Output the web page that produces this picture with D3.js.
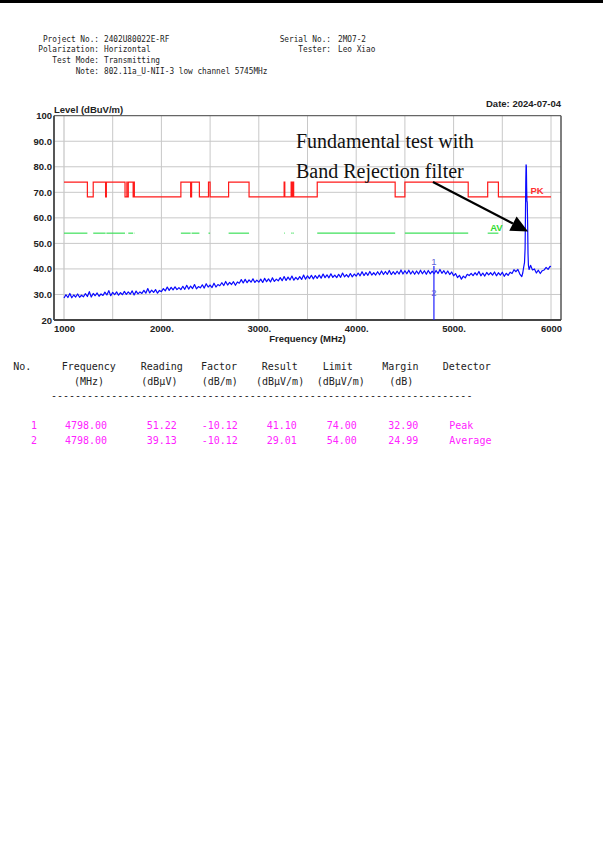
<!DOCTYPE html>
<html><head><meta charset="utf-8">
<script src="https://cdn.jsdelivr.net/npm/d3@7"></script>
<style>body{margin:0;background:#fff}svg{display:block}</style>
</head><body>
<svg id="c" width="603" height="866"></svg>
<script>
// ---------- header ----------
const headerLeftLabels = ["Project No.:", "Polarization:", "Test Mode:", "Note:"];
const headerLeftValues = ["2402U80022E-RF", "Horizontal", "Transmitting", "802.11a_U-NII-3 low channel 5745MHz"];
const headerRightLabels = ["Serial No.:", "Tester:"];
const headerRightValues = ["2MO7-2", "Leo Xiao"];
const dateText = "Date: 2024-07-04";

// ---------- axes ----------
const yTickValues = [20, 30, 40, 50, 60, 70, 80, 90, 100];
const yTickLabels = ["20", "30.0", "40.0", "50.0", "60.0", "70.0", "80.0", "90.0", "100"];
const xTickValues = [1000, 2000, 3000, 4000, 5000, 6000];
const xTickLabels = ["1000", "2000.", "3000.", "4000.", "5000.", "6000"];
const xGridValues = [1000, 1500, 2000, 2500, 3000, 3500, 4000, 4500, 5000, 5500, 6000];
const yGridValues = [30, 40, 50, 60, 70, 80, 90];

// ---------- limits (restricted bands, MHz) ----------
const restrictedBands = [[1000,1240],[1300,1427],[1435,1626.5],[1645.5,1646.5],[1660,1710],[1718.8,1722.2],
  [2200,2300],[2310,2390],[2483.5,2500],[2690,2900],[3260,3267],[3332,3339],[3345.8,3358],
  [3600,4400],[4500,5150],[5350,5460]];
const pkLimitRestricted = 74;
const pkLimitOther = 68.2;
const avLimitRestricted = 54;

// ---------- measured trace ----------
const sweepStart = 1000, sweepStep = 20, sweepEnd = 5700;
const sweepLevels = [
  28.6,29.9,28.8,30.4,28.7,29.8,29.0,30.2,28.9,29.7,
  29.1,30.3,29.2,31.1,29.0,30.4,29.5,30.6,29.3,30.2,
  29.6,30.9,29.8,31.5,29.5,30.8,29.9,31.0,29.7,30.7,
  29.9,31.2,30.0,31.0,30.1,31.4,29.8,31.3,30.2,31.0,
  30.4,31.6,30.5,32.3,30.6,31.7,30.8,31.9,30.5,31.6,
  31.1,32.3,31.4,32.9,31.6,32.8,31.8,33.0,31.9,32.7,
  31.9,33.2,32.0,33.6,32.1,33.3,32.3,33.9,32.2,33.1,
  32.6,33.8,32.5,34.2,32.9,33.7,32.7,34.4,32.9,33.9,
  33.4,34.6,33.5,35.1,33.7,34.7,33.9,35.0,33.6,34.9,
  34.4,35.8,34.5,35.9,34.6,35.7,34.8,36.1,34.7,35.6,
  34.8,36.0,34.7,36.3,35.0,36.1,34.9,36.5,35.1,36.0,
  35.3,36.6,35.4,37.0,35.5,36.8,35.7,37.2,35.6,36.7,
  35.8,37.0,35.9,37.6,36.0,37.3,36.2,37.5,36.1,37.4,
  36.3,37.6,36.4,38.0,36.6,37.7,36.5,38.1,36.7,37.6,
  36.6,37.9,36.7,38.4,36.9,37.8,36.8,38.2,36.9,38.0,
  37.2,38.4,37.3,38.9,37.4,38.6,37.5,39.0,37.6,38.5,
  37.6,38.9,37.7,39.2,37.8,39.0,37.9,39.4,37.8,38.9,
  37.9,39.1,38.0,39.6,38.0,39.3,38.1,39.5,38.0,39.2,
  37.9,39.2,38.0,39.5,38.1,39.3,37.9,39.4,38.1,39.1,
  38.1,39.4,38.2,39.8,38.3,39.3,38.0,39.2,37.8,38.8,
  37.3,38.2,36.6,37.5,36.0,37.2,36.5,37.9,37.4,38.3,
  37.4,38.5,37.6,39.0,37.3,38.4,37.2,38.6,37.7,38.5,
  37.6,38.8,37.3,38.5,37.6,38.7,37.1,38.3,37.5,38.7,
  38.2,39.7,38.9,39.8,38.0,37.0
];
const spikeFreqs  = [5710,5720,5728,5734,5738,5741,5744,5747,5750,5753,5756,5760,5764,5768,5775,5790,5810,5830,5850,5870,5890,5910,5930,5950,5970,5990,6000];
const spikeLevels = [38.4,40.8,42.5,48.0,62.0,74.0,80.8,80.3,72.0,66.5,66.0,58.0,46.0,41.5,39.8,41.4,39.6,40.0,38.4,39.5,38.2,39.3,39.6,40.6,39.8,41.0,40.9];

// ---------- final results table ----------
const tableHeader1 = ["No.", "Frequency", "Reading", "Factor", "Result", "Limit", "Margin", "Detector"];
const tableHeader2 = ["", "(MHz)", "(dBμV)", "(dB/m)", "(dBμV/m)", "(dBμV/m)", "(dB)", ""];
const markerNo = ["1", "2"];
const markerFreq = [4798.00, 4798.00];
const markerReading = [51.22, 39.13];
const markerFactor = [-10.12, -10.12];
const markerResult = [41.10, 29.01];
const markerLimit = [74.00, 54.00];
const markerMargin = [32.90, 24.99];
const markerDetector = ["Peak", "Average"];

// ---------- annotation ----------
const noteLines = ["Fundamental test with", "Band Rejection filter"];
const noteAnchor = {f: 3382, l1: 87.2, l2: 75.8};
const arrowFrom = {f: 4788, l: 74.0};
const arrowTo = {f: 5764, l: 54.7};

// =====================================================
const svg = d3.select("#c");
svg.append("rect").attr("x",0).attr("y",0).attr("width",603).attr("height",3).attr("fill","#000");

// header
const mono = "'DejaVu Sans Mono','Liberation Mono',monospace";
const cw = 4.67;
const hy = [41.5, 52.3, 63, 73.8];
function monoText(g, str, x, yy, anchor, fs, charW, color){
  const t = g.append("text").attr("x",x).attr("y",yy).attr("font-family",mono)
    .attr("font-size",fs).attr("fill",color||"#222").attr("text-anchor",anchor||"start").text(str);
  if (str.length) t.attr("textLength", str.length*charW).attr("lengthAdjust","spacingAndGlyphs");
  return t;
}
headerLeftLabels.forEach((s,i)=>monoText(svg, s, 99, hy[i], "end", 9, cw));
headerLeftValues.forEach((s,i)=>monoText(svg, s, 104, hy[i], "start", 9, cw));
headerRightLabels.forEach((s,i)=>monoText(svg, s, 331, hy[i], "end", 9, cw));
headerRightValues.forEach((s,i)=>monoText(svg, s, 338, hy[i], "start", 9, cw));

// chart
const plotL = 54, plotR = 561, plotT = 115.7, plotB = 320;
const x = d3.scaleLinear().domain([1000, 6000]).range([64, 551]);
const y = d3.scaleLinear().domain([20, 100]).range([plotB, plotT]);
const sans = "'Liberation Sans', Arial, sans-serif";

// grid
svg.append("g").selectAll("line").data(xGridValues).join("line")
  .attr("x1",d=>x(d)).attr("x2",d=>x(d)).attr("y1",plotT).attr("y2",plotB)
  .attr("stroke",d=>d===1000?"#dcdcdc":"#c8c8c8").attr("stroke-width",d=>d===1000?2:1);
svg.append("g").selectAll("line").data(yGridValues).join("line")
  .attr("x1",plotL).attr("x2",plotR).attr("y1",d=>y(d)).attr("y2",d=>y(d))
  .attr("stroke","#c8c8c8").attr("stroke-width",1);

// frame
svg.append("line").attr("x1",plotL).attr("x2",plotR).attr("y1",plotT).attr("y2",plotT).attr("stroke","#666").attr("stroke-width",1.2);
svg.append("line").attr("x1",plotR).attr("x2",plotR).attr("y1",plotT).attr("y2",plotB).attr("stroke","#555").attr("stroke-width",1.5);
svg.append("line").attr("x1",plotL).attr("x2",plotL).attr("y1",plotT).attr("y2",plotB).attr("stroke","#444").attr("stroke-width",1.8);
svg.append("line").attr("x1",plotL).attr("x2",plotR).attr("y1",plotB).attr("y2",plotB).attr("stroke","#444").attr("stroke-width",1.8);

// axes
const yAxis = svg.append("g").attr("transform",`translate(${plotL},0)`)
  .call(d3.axisLeft(y).tickValues(yTickValues).tickSize(0).tickPadding(2)
    .tickFormat((d,i)=>yTickLabels[i]));
yAxis.select(".domain").remove();
yAxis.selectAll("text").attr("font-family",sans).attr("font-weight","bold").attr("font-size",9.5).attr("fill","#222");

const xAxis = svg.append("g").attr("transform",`translate(0,${plotB})`)
  .call(d3.axisBottom(x).tickValues(xTickValues).tickSize(0).tickPadding(5)
    .tickFormat((d,i)=>xTickLabels[i]));
xAxis.select(".domain").remove();
xAxis.selectAll("text").attr("font-family",sans).attr("font-weight","bold").attr("font-size",9.5).attr("fill","#222");

svg.append("text").attr("x",(plotL+plotR)/2).attr("y",341.5).attr("text-anchor","middle")
  .attr("font-family",sans).attr("font-weight","bold").attr("font-size",9.5).attr("fill","#222").text("Frequency (MHz)");
svg.append("text").attr("x",plotL).attr("y",112.5)
  .attr("font-family",sans).attr("font-weight","bold").attr("font-size",9.5).attr("fill","#222").text("Level (dBuV/m)");
svg.append("text").attr("x",plotR).attr("y",107).attr("text-anchor","end")
  .attr("font-family",sans).attr("font-weight","bold").attr("font-size",9.5).attr("fill","#222").text(dateText);

// PK limit (step)
const pkPts = [];
let cur = 1000;
restrictedBands.forEach(b=>{
  if (b[0] > cur) pkPts.push([cur, pkLimitOther]);
  pkPts.push([b[0], pkLimitRestricted]);
  cur = b[1];
});
pkPts.push([cur, pkLimitOther]);
pkPts.push([6000, pkLimitOther]);
svg.append("path").datum(pkPts)
  .attr("d", d3.line().x(d=>x(d[0])).y(d=>y(d[1])).curve(d3.curveStepAfter))
  .attr("fill","none").attr("stroke","#ff1a1a").attr("stroke-width",1.2);

// AV limit segments
svg.append("g").selectAll("line").data(restrictedBands).join("line")
  .attr("x1",d=>x(d[0])).attr("x2",d=>x(d[1])).attr("y1",y(avLimitRestricted)).attr("y2",y(avLimitRestricted))
  .attr("stroke","#3ee05a").attr("stroke-width",1.2);

svg.append("text").attr("x",x(5790)).attr("y",y(69.2)).attr("font-family",sans).attr("font-weight","bold")
  .attr("font-size",9.5).attr("fill","#ff3030").text("PK");
svg.append("text").attr("x",x(5440)).attr("y",y(54.8)).attr("text-anchor","middle").attr("font-family",sans).attr("font-weight","bold")
  .attr("font-size",9.5).attr("fill","#33dd33").text("AV");

// trace
const sweepFreqs = d3.range(sweepStart, sweepEnd + 1, sweepStep);
const trace = sweepFreqs.map((f,i)=>[f, sweepLevels[i]]).concat(spikeFreqs.map((f,i)=>[f, spikeLevels[i]]));
svg.append("path").datum(trace)
  .attr("d", d3.line().x(d=>x(d[0])).y(d=>y(d[1])))
  .attr("fill","none").attr("stroke","#0a0aff").attr("stroke-width",1.2).attr("stroke-linejoin","round");

// markers
svg.append("line").attr("x1",x(markerFreq[0])).attr("x2",x(markerFreq[0]))
  .attr("y1",y(d3.max(markerResult))).attr("y2",y(20)).attr("stroke","#2020ff").attr("stroke-width",1.2);
svg.append("g").selectAll("text").data(markerNo).join("text")
  .attr("x",(d,i)=>x(markerFreq[i])).attr("y",(d,i)=>y(markerResult[i])-1)
  .attr("text-anchor","middle").attr("font-family",sans).attr("font-size",9.5).attr("fill","#6262d8").text(d=>d);

// annotation
svg.append("g").selectAll("text").data(noteLines).join("text")
  .attr("x",x(noteAnchor.f)).attr("y",(d,i)=>y(i===0?noteAnchor.l1:noteAnchor.l2))
  .attr("font-family","'Liberation Serif','Times New Roman',serif").attr("font-size",20).attr("fill","#111").text(d=>d);
const ax0 = x(arrowFrom.f), ay0 = y(arrowFrom.l), ax1 = x(arrowTo.f), ay1 = y(arrowTo.l);
const len = Math.hypot(ax1-ax0, ay1-ay0), dx=(ax1-ax0)/len, dy=(ay1-ay0)/len;
const hl = 17, hw = 8;
const bx = ax1-dx*hl, by = ay1-dy*hl;
svg.append("line").attr("x1",ax0).attr("y1",ay0).attr("x2",bx).attr("y2",by).attr("stroke","#000").attr("stroke-width",2.2);
svg.append("polygon").attr("points",[[ax1,ay1],[bx-dy*hw,by+dx*hw],[bx+dy*hw,by-dx*hw]].map(p=>p.join(",")).join(" ")).attr("fill","#000");

// table
const tcw = 6.02;
const h1x = [13.3, 61.7, 140.7, 201, 261.7, 322.7, 382.3, 442.7];
const h2x = [0, 74, 141.3, 201.7, 256, 316.7, 389.3, 0];
tableHeader1.forEach((s,i)=>monoText(svg, s, h1x[i], 369.5, "start", 10, tcw, "#222"));
tableHeader2.forEach((s,i)=>{ if (s) monoText(svg, s, h2x[i], 385, "start", 10, tcw, "#222"); });
monoText(svg, "-".repeat(70), 51, 398.5, "start", 10, tcw, "#222");
const rowY = [428.5, 443.5];
const colStart = [31, 65, 146.7, 201.7, 266.7, 326.7, 388.3, 449.3];
markerNo.forEach((n,i)=>{
  const cells = [n, markerFreq[i].toFixed(2), markerReading[i].toFixed(2), markerFactor[i].toFixed(2),
    markerResult[i].toFixed(2), markerLimit[i].toFixed(2), markerMargin[i].toFixed(2), markerDetector[i]];
  cells.forEach((c,j)=>monoText(svg, c, colStart[j], rowY[i], "start", 10, tcw, "#ff22ff"));
});
</script>
</body></html>
